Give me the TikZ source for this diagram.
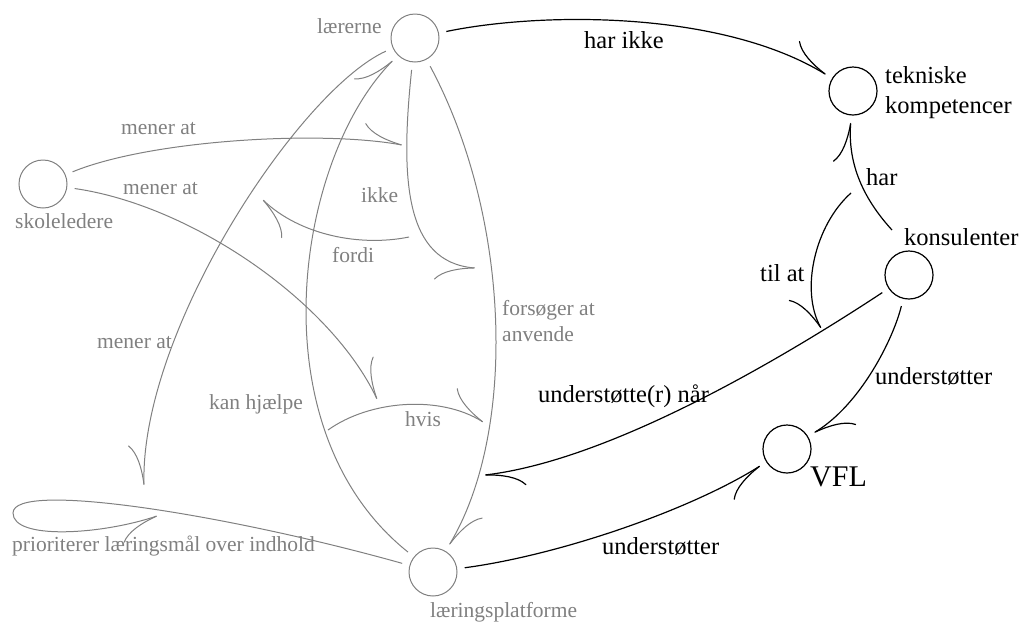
\documentclass[tikz,border=0pt]{standalone}
\usepackage{fontspec}
\setmainfont{Liberation Serif}
\usetikzlibrary{arrows.meta}
\definecolor{gc}{RGB}{128,128,128}
\newcommand\gfnt{\fontsize{21.5}{26}\selectfont}
\newcommand\bfnt{\fontsize{24.5}{30}\selectfont}
\newcommand\vfnt{\fontsize{30}{36}\selectfont}
\begin{document}
\begin{tikzpicture}[x=1pt,y=-1pt,
  conc/.style={circle, minimum size=48pt, inner sep=0pt, outer sep=8pt},
  gconc/.style={conc, draw=gc, line width=1pt},
  bconc/.style={conc, draw=black, line width=1.2pt},
  glab/.style={text=gc, font=\gfnt, inner sep=0pt, anchor=base west},
  blab/.style={text=black, font=\bfnt, inner sep=0pt, anchor=base west},
  tipL/.tip={Computer Modern Rightarrow[left,length=40pt,width=30pt]},
  tipR/.tip={Computer Modern Rightarrow[right,length=40pt,width=30pt]},
  gl/.style={draw=gc, line width=1pt, -tipL},
  gr/.style={draw=gc, line width=1pt, -tipR},
  bl/.style={draw=black, line width=1.2pt, -tipL},
  br/.style={draw=black, line width=1.2pt, -tipR},
]
\useasboundingbox (0,0) rectangle (1023,622);

% concept nodes
\node[gconc] (L) at (415,38) {};
\node[gconc] (S) at (43,184) {};
\node[gconc] (P) at (433,572) {};
\node[bconc] (T) at (853,91) {};
\node[bconc] (K) at (909,275) {};
\node[bconc] (V) at (787,449) {};

% node labels
\node[glab] (Llab) at (317,33) {lærerne};
\node[glab] (Slab) at (15,228) {skoleledere};
\node[glab] (Plab) at (430,617) {læringsplatforme};
\node[blab] (Tlab1) at (885,83) {tekniske};
\node[blab] (Tlab2) at (885,113) {kompetencer};
\node[blab] (Klab) at (904,245) {konsulenter};
\node[text=black, font=\vfnt, inner sep=0pt, anchor=base west] (Vlab) at (810,486) {VFL};

% free ends
\coordinate (m1) at (402,145);
\coordinate (m2) at (377,399);
\coordinate (ik) at (475,268);
\coordinate (fd) at (409,237);
\coordinate (fe) at (263,200);
\coordinate (ml) at (144,485);
\coordinate (hv) at (328,430);
\coordinate (hw) at (483,422);
\coordinate (lp1) at (13,513);
\coordinate (lp2) at (157,516);
\coordinate (kh) at (892,230);
\coordinate (ta) at (851,193);
\coordinate (tb) at (821,328);
\coordinate (ut) at (485,475);

% gray connectors
\draw[gl] (S) .. controls (150,140) and (320,130) .. (m1);
\draw[gl] (S) .. controls (190,205) and (330,300) .. (m2);
\draw[gr] (L) .. controls (400,180) and (405,262) .. (ik);
\draw[gl] (fd) .. controls (360,247) and (300,235) .. (fe);
\draw[gl] (L) .. controls (510,215) and (518,430) .. (P);
\draw[gl] (P) .. controls (255,430) and (295,160) .. (L);
\draw[gr] (L) .. controls (300,90) and (140,330) .. (ml);
\draw[gl] (hv) .. controls (370,400) and (440,395) .. (hw);
\draw[gr] (P) .. controls (230,515) and (13,480) .. (lp1) .. controls (13,540) and (100,535) .. (lp2);

% black connectors
\draw[bl] (L) .. controls (540,12) and (720,10) .. (T);
\draw[bl] (kh) .. controls (860,195) and (848,160) .. (T);
\draw[br] (ta) .. controls (815,225) and (800,290) .. (tb);
\draw[bl] (K) .. controls (780,360) and (610,460) .. (ut);
\draw[bl] (K) .. controls (893,340) and (860,405) .. (V);
\draw[br] (P) .. controls (560,555) and (690,510) .. (V);

% edge labels
\node[glab] (e1) at (121,134) {mener at};
\node[glab] (e2) at (123,194) {mener at};
\node[glab] (e3) at (361,202) {ikke};
\node[glab] (e4) at (332,262) {fordi};
\node[glab] (e5a) at (502,315) {forsøger at};
\node[glab] (e5b) at (502,341) {anvende};
\node[glab] (e6) at (97,348) {mener at};
\node[glab] (e7) at (209,409) {kan hjælpe};
\node[glab] (e8) at (405,426) {hvis};
\node[glab] (e9) at (12,551) {prioriterer læringsmål over indhold};
\node[blab] (b1) at (584,48) {har ikke};
\node[blab] (b2) at (866,185) {har};
\node[blab] (b3) at (760,281) {til at};
\node[blab] (b4) at (875,384) {understøtter};
\node[blab] (b5) at (538,402) {understøtte(r) når};
\node[blab] (b6) at (602,554) {understøtter};
\end{tikzpicture}
\end{document}
